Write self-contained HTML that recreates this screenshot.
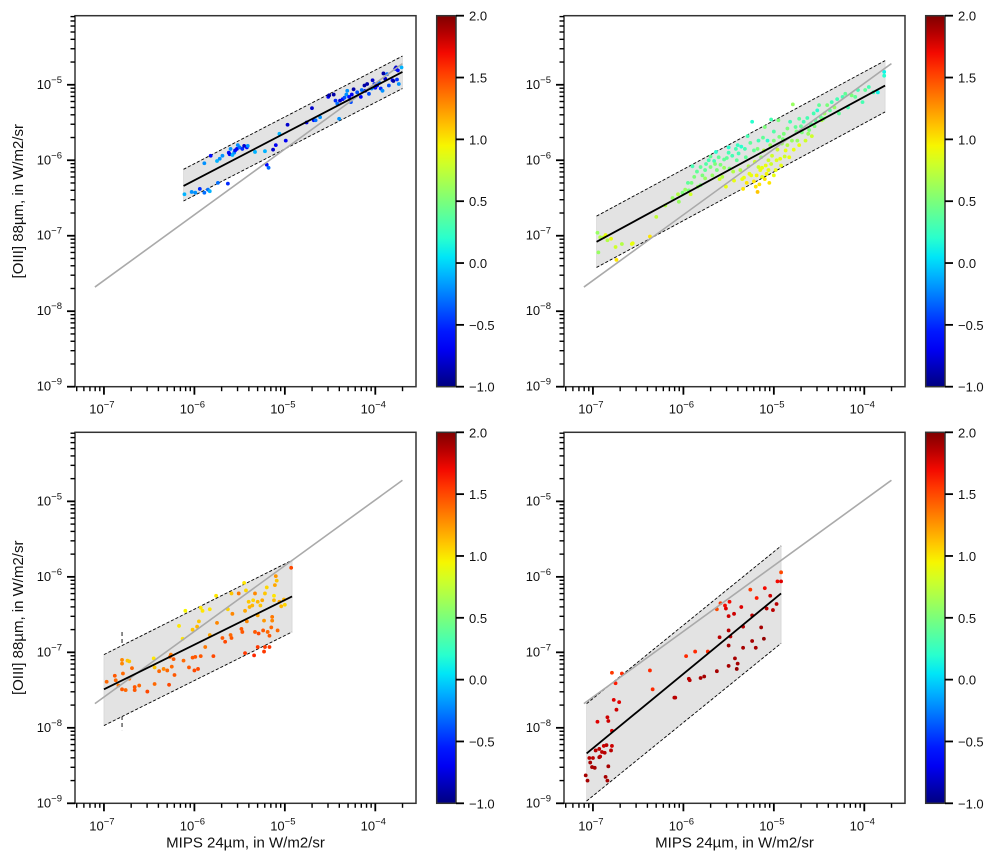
<!DOCTYPE html>
<html><head><meta charset="utf-8"><style>
html,body{margin:0;padding:0;background:#fff;}
svg{display:block;font-family:"Liberation Sans","DejaVu Sans",sans-serif;}
</style></head><body>
<svg id="fig" width="1008" height="864" viewBox="0 0 1008 864" xmlns="http://www.w3.org/2000/svg"></svg>
<script>
// ---- data (log10 values) ----
const tlX=[-6.11,-6.03,-5.99,-5.94,-5.89,-5.85,-5.83,-5.74,-5.63,-5.89,-5.82,-5.75,-5.72,-5.69,-5.62,-5.61,-5.60,-5.58,-5.56,-5.55,-5.53,-5.52,-5.50,-5.47,-5.45,-5.42,-5.41,-5.33,-5.22,-5.20,-5.18,-5.13,-5.10,-5.06,-4.99,-4.97,-4.76,-4.70,-4.68,-4.66,-4.61,-4.52,-4.51,-4.46,-4.44,-4.42,-4.40,-4.39,-4.36,-4.34,-4.32,-4.31,-4.29,-4.27,-4.26,-4.24,-4.20,-4.16,-4.15,-4.12,-4.11,-4.09,-4.07,-4.04,-4.03,-4.01,-4.00,-3.98,-3.96,-3.94,-3.92,-3.91,-3.89,-3.87,-3.85,-3.81,-3.80,-3.78,-3.77,-3.76,-3.75,-3.74,-3.71];
const tlY=[-6.45,-6.42,-6.43,-6.38,-6.43,-6.39,-6.41,-6.30,-6.31,-6.04,-5.94,-6.01,-5.98,-5.94,-5.90,-5.92,-5.85,-5.93,-5.90,-5.87,-5.85,-5.80,-5.83,-5.85,-5.81,-5.83,-5.81,-5.89,-5.88,-6.06,-6.10,-5.86,-5.80,-5.65,-5.74,-5.53,-5.50,-5.31,-5.47,-5.47,-5.43,-5.16,-5.14,-5.13,-5.21,-5.25,-5.45,-5.21,-5.19,-5.17,-5.13,-5.08,-5.16,-5.23,-5.13,-5.06,-5.10,-5.16,-5.07,-5.01,-5.08,-4.99,-5.12,-5.05,-4.94,-4.99,-5.04,-5.01,-4.97,-5.05,-5.08,-4.85,-4.92,-4.86,-5.01,-4.94,-4.95,-4.79,-4.77,-4.93,-4.81,-4.99,-4.77];
const tlC=[-0.1,-0.2,-0.2,-0.5,-0.3,-0.3,-0.1,-0.3,-0.5,-0.2,-0.6,-0.1,-0.2,-0.2,-0.6,-0.7,-0.2,-0.1,-0.2,-0.6,-0.7,-0.2,-0.3,-0.5,-0.8,-0.6,-0.2,-0.1,-0.1,-0.6,-0.3,-0.8,-0.7,-0.1,-0.7,-0.8,-0.7,-0.8,-0.6,-0.3,-0.2,-0.7,-0.9,-0.9,-0.5,-0.3,-0.2,-0.8,-0.6,-0.4,-0.2,-0.2,-0.6,-0.4,-0.7,-0.9,-0.4,-0.6,-0.3,-0.9,-0.7,-0.9,-0.4,-0.2,-0.8,-0.5,-0.6,-0.7,-0.3,-0.5,-0.2,-0.9,-0.8,-0.3,-0.4,-0.6,-0.9,-0.7,-0.8,-0.5,-0.6,-0.2,-0.1];

const trX=[-6.95,-6.94,-6.92,-6.88,-6.86,-6.84,-6.80,-6.75,-6.74,-6.68,-6.57,-6.56,-6.37,-6.12,-6.06,-6.01,-5.98,-5.94,-5.92,-5.91,-5.90,-5.84,-5.81,-5.81,-5.79,-5.76,-5.76,-5.72,-5.70,-5.68,-5.66,-5.64,-5.63,-5.61,-5.59,-5.57,-5.55,-5.53,-5.52,-5.50,-5.49,-5.46,-5.44,-5.42,-5.41,-5.39,-5.37,-5.36,-5.34,-5.33,-5.31,-5.29,-5.28,-5.26,-5.25,-5.24,-5.22,-5.21,-5.20,-5.18,-5.17,-5.17,-5.15,-5.14,-5.13,-5.11,-5.10,-5.09,-5.07,-5.06,-5.06,-5.04,-5.03,-5.02,-5.00,-4.98,-4.96,-4.95,-4.94,-4.93,-4.91,-4.89,-4.87,-4.85,-4.83,-4.82,-4.80,-4.79,-4.78,-4.76,-4.74,-4.72,-4.72,-4.69,-4.67,-4.65,-4.63,-4.61,-4.59,-4.58,-4.56,-4.54,-4.52,-4.50,-4.48,-4.47,-4.44,-4.41,-4.38,-4.36,-4.33,-4.30,-4.28,-4.24,-4.21,-4.18,-4.14,-4.10,-4.07,-4.02,-3.99,-3.95,-3.90,-3.85,-3.78,-3.78,
 -5.35,-5.30,-5.27,-5.22,-5.19,-5.16,-5.13,-5.10,-5.08,-5.05,-5.03,-5.00,-4.97,-4.92,-4.88,-5.45,-5.55,-5.65,-5.70,-5.75,-5.85,-5.88,-5.50,-5.40,-5.32,-5.18,-5.12,-5.00,-4.90,-4.85,-4.75,-4.70,-4.62,-4.55,-4.45,-6.05,-6.20,-6.30,-5.95,-5.60];
const trY=[-6.96,-7.22,-7.02,-7.02,-6.99,-7.06,-7.04,-7.15,-7.32,-7.11,-7.11,-7.10,-7.01,-6.50,-6.45,-6.43,-6.39,-6.40,-6.45,-6.30,-6.08,-6.35,-6.09,-6.33,-6.20,-6.24,-6.13,-6.00,-6.09,-6.20,-6.01,-5.89,-6.13,-5.96,-6.06,-6.22,-5.99,-6.35,-5.97,-5.83,-6.11,-5.94,-6.27,-5.85,-6.00,-5.91,-6.13,-5.82,-6.38,-6.23,-5.96,-5.68,-6.08,-5.77,-6.20,-5.49,-5.87,-6.02,-6.35,-6.42,-6.09,-5.74,-6.13,-5.96,-6.22,-5.87,-5.56,-6.07,-5.74,-6.13,-6.00,-5.80,-5.46,-5.94,-5.74,-6.13,-5.86,-5.47,-5.69,-5.98,-5.78,-5.65,-5.87,-5.58,-5.96,-5.49,-5.74,-5.26,-5.86,-5.56,-5.74,-5.45,-5.80,-5.63,-5.49,-5.74,-5.44,-5.60,-5.52,-5.68,-5.38,-5.47,-5.34,-5.27,-5.43,-5.47,-5.38,-5.27,-5.34,-5.23,-5.30,-5.19,-5.38,-5.16,-5.12,-5.30,-5.14,-5.16,-5.07,-5.23,-5.07,-5.03,-5.10,-5.10,-4.83,-4.88,
 -6.25,-6.30,-6.18,-6.28,-6.20,-6.32,-6.10,-6.25,-6.18,-6.30,-6.05,-6.20,-6.00,-6.07,-5.95,-6.15,-6.10,-6.05,-5.95,-6.05,-6.15,-6.22,-5.90,-5.80,-5.85,-5.85,-5.70,-5.62,-5.72,-5.80,-5.62,-5.55,-5.65,-5.55,-5.45,-6.55,-6.60,-6.75,-6.30,-6.25];
const trC=[0.6,0.6,0.7,0.8,0.9,0.7,0.9,0.8,1.0,0.7,0.9,0.9,1.0,0.6,0.7,0.5,0.6,0.5,0.8,0.5,0.3,0.6,0.4,0.5,0.5,0.6,0.4,0.3,0.5,0.6,0.3,0.2,0.5,0.4,0.5,0.7,0.4,0.9,0.4,0.2,0.5,0.3,0.9,0.3,0.4,0.3,0.7,0.2,1.0,0.9,0.4,0.3,0.7,0.4,0.9,0.2,0.4,0.8,1.0,1.1,0.8,0.3,0.9,0.6,0.9,0.7,0.5,0.9,0.2,0.9,0.8,0.6,0.3,0.8,0.5,0.9,0.8,0.5,0.5,0.9,0.6,0.5,0.9,0.5,0.9,0.3,0.6,0.6,0.9,0.4,0.6,0.4,0.9,0.5,0.3,0.8,0.3,0.5,0.4,0.8,0.3,0.4,0.2,0.4,0.4,0.7,0.6,0.5,0.4,0.3,0.6,0.3,0.4,0.3,0.4,0.3,0.5,0.4,0.3,0.3,0.4,0.3,0.3,0.1,0.1,0.2,
 0.9,1.0,0.9,1.0,0.95,1.0,0.9,1.0,0.95,1.0,0.8,0.9,0.85,0.9,0.8,0.7,0.6,0.5,0.4,0.35,0.4,0.5,0.3,0.25,0.3,0.5,0.4,0.35,0.5,0.7,0.5,0.4,0.6,0.5,0.5,0.6,0.7,0.75,0.4,0.8];

const blX=[-6.97,-6.88,-6.87,-6.84,-6.80,-6.80,-6.74,-6.72,-6.69,-6.79,-6.72,-6.76,-6.80,-6.66,-6.61,-6.66,-6.52,-6.44,-6.28,-6.45,-6.44,-6.39,-6.34,-6.30,-6.22,-6.25,-6.23,-6.26,-6.27,-6.17,-6.13,-6.10,-6.12,-6.06,-6.02,-5.99,-5.93,-5.96,-6.00,-5.93,-5.91,-5.95,-6.02,-5.97,-5.88,-5.83,-5.83,-5.79,-5.76,-5.75,-5.69,-5.66,-5.63,-5.59,-5.58,-5.59,-5.60,-5.51,-5.48,-5.47,-5.45,-5.44,-5.44,-5.42,-5.43,-5.40,-5.39,-5.36,-5.35,-5.33,-5.33,-5.30,-5.30,-5.29,-5.30,-5.34,-5.27,-5.25,-5.24,-5.23,-5.23,-5.22,-5.22,-5.20,-5.19,-5.17,-5.17,-5.15,-5.14,-5.14,-5.12,-5.12,-5.11,-5.10,-5.09,-5.08,-5.06,-5.04,-5.01,-5.00,-4.93];
const blY=[-7.39,-7.31,-7.37,-7.44,-7.10,-7.15,-7.11,-7.12,-7.21,-7.28,-7.35,-7.50,-7.49,-7.46,-7.44,-7.50,-7.52,-7.42,-7.43,-7.08,-7.20,-7.25,-7.22,-7.24,-7.30,-7.19,-7.09,-7.03,-7.06,-6.65,-6.82,-6.45,-7.11,-7.20,-7.07,-7.06,-7.05,-7.22,-7.24,-6.41,-6.45,-6.59,-6.70,-6.66,-6.93,-6.43,-6.77,-7.05,-6.25,-6.61,-6.81,-6.86,-6.43,-6.22,-6.49,-6.81,-6.77,-6.22,-6.69,-6.73,-6.08,-6.45,-7.01,-6.59,-6.18,-6.33,-6.40,-6.38,-6.31,-6.22,-6.73,-6.33,-6.51,-6.75,-6.93,-7.04,-6.38,-6.31,-6.71,-6.58,-6.99,-6.93,-6.22,-6.14,-6.73,-6.78,-6.93,-6.67,-6.58,-6.53,-6.25,-6.31,-6.11,-5.99,-6.05,-6.71,-6.33,-6.39,-6.30,-6.37,-5.88];
const blC=[1.4,1.45,1.4,1.35,1.3,1.3,1.1,1.1,1.4,1.4,1.35,1.4,1.45,1.45,1.4,1.45,1.5,1.4,1.5,1.0,1.1,1.4,1.3,1.4,1.45,1.4,1.45,1.35,1.4,1.0,1.0,0.95,1.4,1.45,1.45,1.45,1.45,1.5,1.5,1.0,1.0,1.1,1.1,1.15,1.35,1.0,1.2,1.5,1.0,1.3,1.45,1.5,1.05,1.1,1.3,1.45,1.4,1.35,1.45,1.45,1.0,1.2,1.55,1.3,1.05,1.1,1.15,1.15,1.05,1.3,1.45,1.15,1.2,1.5,1.55,1.6,1.1,1.2,1.45,1.25,1.55,1.55,1.1,1.05,1.4,1.45,1.55,1.4,1.3,1.35,1.0,1.15,1.2,1.25,1.1,1.4,1.2,1.15,1.15,1.05,1.5];

const brX=[-7.08,-7.06,-7.04,-7.03,-7.01,-7.00,-6.98,-6.97,-6.93,-6.93,-6.92,-6.90,-6.88,-6.87,-6.86,-6.85,-6.84,-6.83,-6.80,-6.79,-6.95,-6.84,-6.83,-6.79,-6.77,-6.71,-6.74,-6.79,-6.68,-6.75,-6.37,-6.34,-6.10,-6.09,-5.97,-5.87,-5.94,-5.93,-5.81,-5.77,-5.73,-5.63,-5.63,-5.59,-5.54,-5.53,-5.49,-5.50,-5.44,-5.50,-5.48,-5.60,-5.50,-5.36,-5.34,-5.34,-5.43,-5.40,-5.41,-5.50,-5.26,-5.19,-5.24,-5.24,-5.20,-5.14,-5.10,-5.11,-5.08,-5.04,-5.01,-4.97,-4.96,-4.92,-4.92];
const brY=[-8.63,-8.70,-8.40,-8.46,-8.52,-8.40,-8.53,-8.30,-8.28,-8.39,-8.38,-8.32,-8.24,-8.33,-8.65,-8.23,-8.70,-8.51,-8.30,-8.24,-7.92,-7.86,-7.91,-8.04,-7.63,-7.66,-7.76,-7.27,-7.28,-7.41,-7.24,-7.49,-7.60,-7.60,-7.05,-6.99,-7.35,-7.37,-7.34,-7.32,-6.99,-7.25,-6.43,-6.35,-6.38,-6.42,-6.33,-6.52,-6.49,-6.71,-6.79,-6.80,-6.91,-6.40,-6.66,-6.94,-7.08,-7.15,-7.22,-7.18,-6.17,-6.28,-6.51,-6.85,-6.94,-6.67,-6.15,-6.82,-6.42,-6.25,-6.44,-6.36,-6.06,-6.06,-5.94];
const brC=[1.9,1.9,1.85,1.9,1.9,1.85,1.9,1.85,1.85,1.9,1.85,1.85,1.8,1.85,1.9,1.85,1.9,1.9,1.85,1.8,1.75,1.8,1.8,1.75,1.75,1.75,1.8,1.55,1.6,1.65,1.6,1.6,1.85,1.85,1.6,1.6,1.85,1.85,1.9,1.9,1.6,1.9,1.5,1.55,1.7,1.75,1.7,1.8,1.8,1.85,1.85,1.85,1.9,1.75,1.85,1.9,1.9,1.9,1.95,1.9,1.55,1.65,1.85,1.9,1.9,1.9,1.7,1.95,1.85,1.8,1.85,1.85,1.7,1.75,1.5];

// fit lines / bands: [x0,x1], fit y, upper y, lower y
const tlFitX=[-6.12,-3.70], tlFitY=[-6.34,-4.83], tlUp=[-6.12,-4.62], tlLo=[-6.54,-5.05];
const trFitX=[-6.96,-3.77], trFitY=[-7.08,-5.01], trUp=[-6.74,-4.68], trLo=[-7.42,-5.36];
const blFitX=[-7.00,-4.92], blFitY=[-7.49,-6.26], blUp=[-7.03,-5.78], blLo=[-7.97,-6.73];
const brFitX=[-7.07,-4.92], brFitY=[-8.34,-6.22], brUp=[-7.68,-5.59], brLo=[-8.97,-6.88];
const refX=[-7.10,-3.70], refY=[-7.68,-4.72];
const blMarkX=[-6.80], blMarkY=[-6.73,-8.03];
const xTicks=[-7,-6,-5,-4], yTicks=[-9,-8,-7,-6,-5];
const cbTicks=[-1.0,-0.5,0.0,0.5,1.0,1.5,2.0];

// ---- layout ----
const NS="http://www.w3.org/2000/svg";
const svg=document.getElementById('fig');
const AX={l:75,r:416,t:15.7,b:386.7}, DX=489, DY=416.6;
const XMIN=-7.32, XMAX=-3.55, YMIN=-9, YMAX=-4.085;
const CB={l:436.7,r:456};
function el(tag,attrs,parent){const e=document.createElementNS(NS,tag);for(const k in attrs)e.setAttribute(k,attrs[k]);(parent||svg).appendChild(e);return e;}
function jet(v){let t=(v+1)/3;t=Math.max(0,Math.min(1,t));
 function seg(p){for(let i=0;i<p.length-1;i++){if(t<=p[i+1][0]){const a=p[i],b=p[i+1];return a[1]+(b[1]-a[1])*(t-a[0])/(b[0]-a[0]);}}return p[p.length-1][1];}
 const r=seg([[0,0],[0.35,0],[0.66,1],[0.89,1],[1,0.5]]),g=seg([[0,0],[0.125,0],[0.375,1],[0.64,1],[0.91,0],[1,0]]),b=seg([[0,0.5],[0.11,1],[0.34,1],[0.65,0],[1,0]]);
 return `rgb(${Math.round(r*255)},${Math.round(g*255)},${Math.round(b*255)})`;}

const defs=el('defs',{});
const grad=el('linearGradient',{id:'jetg',x1:0,y1:1,x2:0,y2:0},defs);
for(let i=0;i<=20;i++){el('stop',{offset:(i/20),'stop-color':jet(-1+3*i/20)},grad);}

function panel(idx,ox,oy,X,Y,C,fx,fy,up,lo,showY,showX,extra){
 const sx=v=>ox+AX.l+(v-XMIN)/(XMAX-XMIN)*(AX.r-AX.l);
 const sy=v=>oy+AX.b-(v-YMIN)/(YMAX-YMIN)*(AX.b-AX.t);
 const g=el('g',{});
 
 
 const cp=el('clipPath',{id:'cp'+idx},defs);
 el('rect',{x:ox+AX.l,y:oy+AX.t,width:AX.r-AX.l,height:AX.b-AX.t},cp);
 const pg=el('g',{'clip-path':`url(#cp${idx})`},g);
 if(extra){const m=el('line',{x1:sx(extra[0][0]),y1:sy(extra[1][0]),x2:sx(extra[0][0]),y2:sy(extra[1][1]),stroke:'#000','stroke-width':0.9,'stroke-dasharray':'4,3'},pg);
  
  }
 const band=el('polygon',{points:`${sx(fx[0])},${sy(up[0])} ${sx(fx[1])},${sy(up[1])} ${sx(fx[1])},${sy(lo[1])} ${sx(fx[0])},${sy(lo[0])}`,fill:'#e3e3e3',stroke:'#d0d0d0','stroke-width':0.6},pg);
 
 
 const u=el('line',{x1:sx(fx[0]),y1:sy(up[0]),x2:sx(fx[1]),y2:sy(up[1]),stroke:'#000','stroke-width':0.9,'stroke-dasharray':'3,2'},pg);
 
 
 const lw=el('line',{x1:sx(fx[0]),y1:sy(lo[0]),x2:sx(fx[1]),y2:sy(lo[1]),stroke:'#000','stroke-width':0.9,'stroke-dasharray':'3,2'},pg);
 
 
 for(let i=0;i<X.length;i++){const c=el('circle',{cx:sx(X[i]),cy:sy(Y[i]),r:1.9,fill:jet(C[i])},pg);
  
  }
 const rl=el('line',{x1:sx(refX[0]),y1:sy(refY[0]),x2:sx(refX[1]),y2:sy(refY[1]),stroke:'#aaaaaa','stroke-width':1.6},pg);
 
 
 const fl=el('line',{x1:sx(fx[0]),y1:sy(fy[0]),x2:sx(fx[1]),y2:sy(fy[1]),stroke:'#000','stroke-width':1.8},pg);
 
 
 const fr=el('rect',{x:ox+AX.l,y:oy+AX.t,width:AX.r-AX.l,height:AX.b-AX.t,fill:'none',stroke:'#333','stroke-width':1.5},g);
 
 
 for(let d=-8;d<=-3;d++)for(let k=1;k<10;k++){const v=d+Math.log10(k);if(v<XMIN||v>XMAX)continue;const X0=sx(v),maj=k===1;
  el('line',{x1:X0,y1:oy+AX.b,x2:X0,y2:oy+AX.b+(maj?8:4.5),stroke:'#000','stroke-width':maj?1.8:1.4},g);}
 xTicks.forEach(v=>{const t=el('text',{x:sx(v)-2,y:oy+AX.b+27,'font-size':13,'text-anchor':'middle',fill:'#111'},g);
  
  
  t.textContent='10';const s=el('tspan',{'font-size':9.5,dy:-6},t);s.textContent='\u2212'+(-v);});
 for(let d=-9;d<=-4;d++)for(let k=1;k<10;k++){const v=d+Math.log10(k);if(v<YMIN||v>YMAX)continue;const Y0=sy(v),maj=k===1;
  el('line',{x1:ox+AX.l,y1:Y0,x2:ox+AX.l-(maj?8:4.5),y2:Y0,stroke:'#000','stroke-width':maj?1.8:1.4},g);}
 yTicks.forEach(v=>{const t=el('text',{x:ox+AX.l-13,y:sy(v)+4,'font-size':13,'text-anchor':'end',fill:'#111'},g);
  
  
  t.textContent='10';const s=el('tspan',{'font-size':9.5,dy:-6},t);s.textContent='\u2212'+(-v);});
 if(showY){const t=el('text',{x:0,y:0,'font-size':15,'text-anchor':'middle',fill:'#111',transform:`translate(${ox+23},${oy+(AX.t+AX.b)/2}) rotate(-90)`},g);
  
  
  t.textContent='[OIII] 88µm, in W/m2/sr';}
 if(showX){const t=el('text',{x:ox+(AX.l+AX.r)/2,y:oy+AX.b+44,'font-size':15,'text-anchor':'middle',fill:'#111'},g);
  
  
  t.textContent='MIPS 24µm, in W/m2/sr';}
 const cb=el('rect',{x:ox+CB.l,y:oy+AX.t,width:CB.r-CB.l,height:AX.b-AX.t,fill:'url(#jetg)',stroke:'#333','stroke-width':1.5},g);
 
 
 const cy=v=>oy+AX.b-(v+1)/3*(AX.b-AX.t);
 cbTicks.forEach(v=>{el('line',{x1:ox+CB.r,y1:cy(v),x2:ox+CB.r+8,y2:cy(v),stroke:'#000','stroke-width':1.8},g);
  const t=el('text',{x:ox+CB.r+13,y:cy(v)+5,'font-size':13,fill:'#111'},g);
  
  
  t.textContent=(v<0?'\u2212':'')+Math.abs(v).toFixed(1);});
}
panel('top-left',0,0,tlX,tlY,tlC,tlFitX,tlFitY,tlUp,tlLo,true,false,null);
panel('top-right',DX,0,trX,trY,trC,trFitX,trFitY,trUp,trLo,false,false,null);
panel('bottom-left',0,DY,blX,blY,blC,blFitX,blFitY,blUp,blLo,true,true,[blMarkX,blMarkY]);
panel('bottom-right',DX,DY,brX,brY,brC,brFitX,brFitY,brUp,brLo,false,true,null);
</script>
</body></html>
